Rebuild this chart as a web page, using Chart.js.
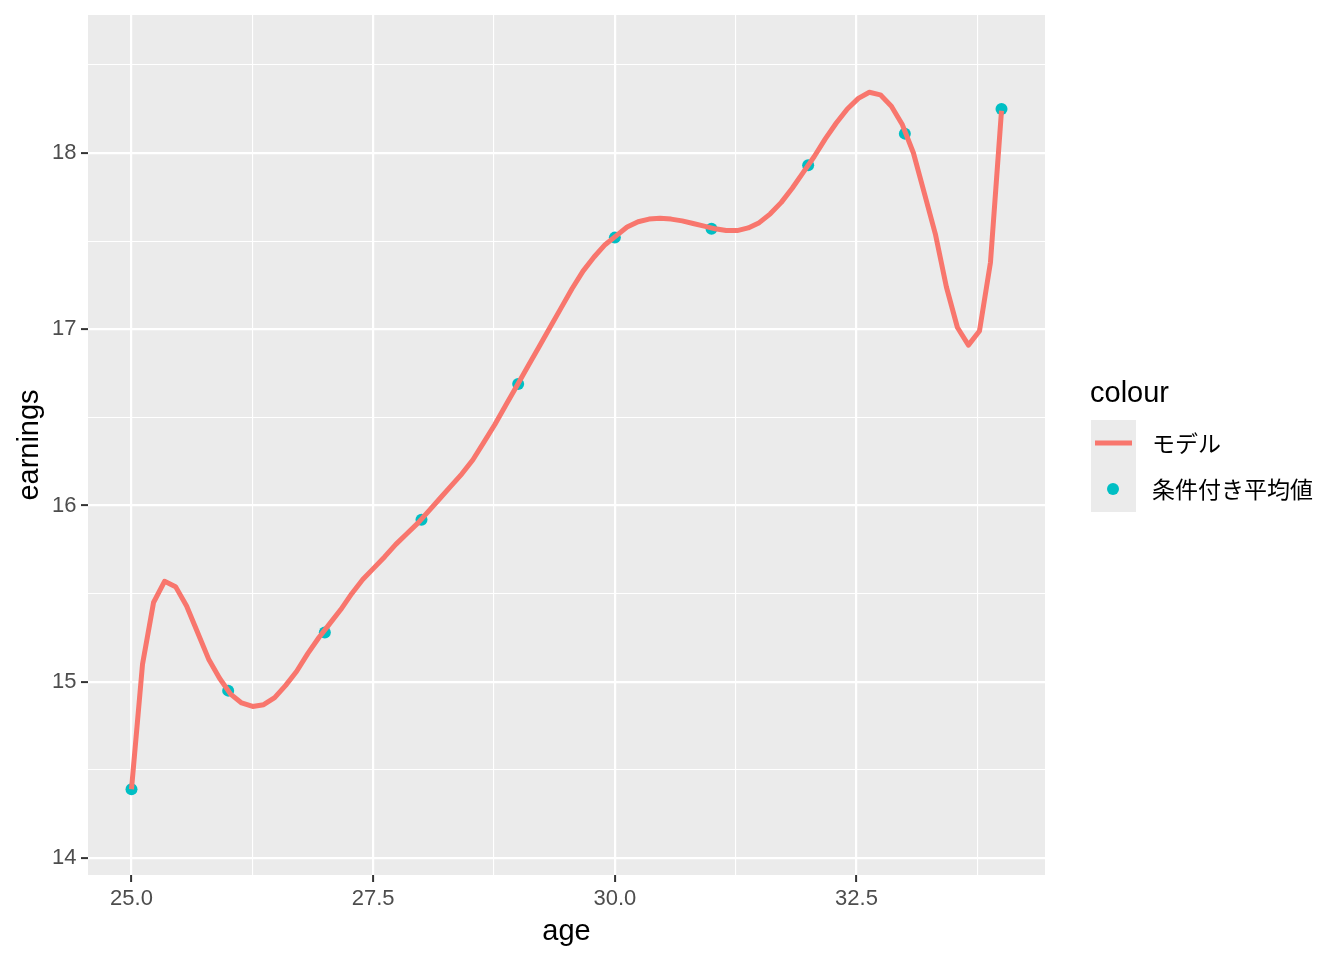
<!DOCTYPE html>
<html>
<head>
<meta charset="utf-8">
<script src="https://cdn.jsdelivr.net/npm/chart.js@4/dist/chart.umd.min.js"></script>
<style>
	body { margin: 0; background: #FFFFFF; }
	#wrap { width: 1344px; height: 960px; }
</style>
</head>
<body>
<div id="wrap"><canvas id="myChart" width="1344" height="960"></canvas></div>
<script>
// 조건부 평균 (점)
var ages = [25, 26, 27, 28, 29, 30, 31, 32, 33, 34];
var meanEarnings = [14.39, 14.95, 15.28, 15.92, 16.69, 17.52, 17.57, 17.93, 18.11, 18.25];

// 모델 곡선 (80개 지점)
var modelAge = [
	25.000, 25.114, 25.228, 25.342, 25.456, 25.570, 25.684, 25.797, 25.911, 26.025,
	26.139, 26.253, 26.367, 26.481, 26.595, 26.709, 26.823, 26.937, 27.051, 27.165,
	27.278, 27.392, 27.506, 27.620, 27.734, 27.848, 27.962, 28.076, 28.190, 28.304,
	28.418, 28.532, 28.646, 28.759, 28.873, 28.987, 29.101, 29.215, 29.329, 29.443,
	29.557, 29.671, 29.785, 29.899, 30.013, 30.127, 30.241, 30.354, 30.468, 30.582,
	30.696, 30.810, 30.924, 31.038, 31.152, 31.266, 31.380, 31.494, 31.608, 31.722,
	31.835, 31.949, 32.063, 32.177, 32.291, 32.405, 32.519, 32.633, 32.747, 32.861,
	32.975, 33.089, 33.203, 33.316, 33.430, 33.544, 33.658, 33.772, 33.886, 34.000
];
var modelEarnings = [
	14.39, 15.10, 15.45, 15.57, 15.54, 15.43, 15.28, 15.13, 15.02, 14.93,
	14.88, 14.86, 14.87, 14.91, 14.98, 15.06, 15.16, 15.25, 15.33, 15.41,
	15.50, 15.58, 15.645, 15.71, 15.78, 15.84, 15.90, 15.97, 16.04, 16.11,
	16.18, 16.26, 16.36, 16.46, 16.57, 16.68, 16.79, 16.90, 17.01, 17.12,
	17.23, 17.33, 17.41, 17.48, 17.53, 17.58, 17.61, 17.625, 17.63, 17.625,
	17.615, 17.60, 17.585, 17.57, 17.56, 17.56, 17.575, 17.605, 17.655, 17.72,
	17.80, 17.89, 17.98, 18.08, 18.17, 18.25, 18.31, 18.345, 18.33, 18.265,
	18.16, 18.00, 17.77, 17.54, 17.24, 17.01, 16.91, 16.99, 17.38, 18.24
];

var xMajor = [25, 27.5, 30, 32.5];
var xMinor = [26.25, 28.75, 31.25, 33.75];
var yMajor = [14, 15, 16, 17, 18];
var yMinor = [14.5, 15.5, 16.5, 17.5, 18.5];

var legendTitle = 'colour';
var legendLabels = ['モデル', '条件付き平均値'];

var LINE_COLOR = '#F8766D';
var POINT_COLOR = '#00BFC4';
var PANEL_BG = '#EBEBEB';

function toPoints(xs, ys) {
	var list = new Array();
	xs.forEach(function(x, i) {
		list.push({ x: x, y: ys[i] });
	});
	return list;
}

function isMajor(list, v) {
	return list.some(function(m) { return Math.abs(m - v) < 1e-6; });
}

function buildTicks(major, minor) {
	return function(scale) {
		var all = major.concat(minor).sort(function(a, b) { return a - b; });
		scale.ticks = all.map(function(v) { return { value: v }; });
	};
}

var panelBg = {
	id: 'panelBg',
	beforeDraw: function(chart) {
		var a = chart.chartArea;
		var ctx = chart.ctx;
		ctx.save();
		ctx.fillStyle = PANEL_BG;
		ctx.fillRect(a.left, a.top, a.right - a.left, a.bottom - a.top);
		ctx.restore();
	}
};

var ggLegend = {
	id: 'ggLegend',
	afterDraw: function(chart) {
		var ctx = chart.ctx;
		ctx.save();
		ctx.fillStyle = '#000000';
		ctx.font = '29px "Liberation Sans", Arial, sans-serif';
		ctx.textBaseline = 'alphabetic';
		ctx.fillText(legendTitle, 1090, 402);

		ctx.fillStyle = PANEL_BG;
		ctx.fillRect(1091, 420, 45, 92);

		ctx.strokeStyle = LINE_COLOR;
		ctx.lineWidth = 5;
		ctx.beginPath();
		ctx.moveTo(1095, 443);
		ctx.lineTo(1132, 443);
		ctx.stroke();

		ctx.fillStyle = POINT_COLOR;
		ctx.beginPath();
		ctx.arc(1113, 489, 6, 0, Math.PI * 2);
		ctx.fill();

		ctx.fillStyle = '#000000';
		ctx.font = '23px "Noto Sans CJK JP", sans-serif';
		ctx.textBaseline = 'middle';
		ctx.fillText(legendLabels[0], 1152, 443);
		ctx.fillText(legendLabels[1], 1152, 489);
		ctx.restore();
	}
};

var tickFont = { family: '"Liberation Sans", Arial, sans-serif', size: 22 };
var yTickFont = { family: '"Liberation Sans", Arial, sans-serif', size: 22, lineHeight: 0.8 };
var titleFont = { family: '"Liberation Sans", Arial, sans-serif', size: 29 };

var _config = {
	data: {
		datasets: [
			{
				type: 'line',
				label: legendLabels[0],
				data: toPoints(modelAge, modelEarnings),
				borderColor: LINE_COLOR,
				borderWidth: 5,
				pointRadius: 0,
				fill: false,
				tension: 0,
				borderJoinStyle: 'round',
				order: 0
			},
			{
				type: 'scatter',
				label: legendLabels[1],
				data: toPoints(ages, meanEarnings),
				backgroundColor: POINT_COLOR,
				borderWidth: 0,
				pointRadius: 6,
				order: 1
			}
		]
	},
	options: {
		responsive: false,
		animation: false,
		layout: { padding: { left: 0, top: 15, right: 299, bottom: 0 } },
		plugins: {
			legend: { display: false },
			tooltip: { enabled: false }
		},
		scales: {
			x: {
				type: 'linear',
				min: 24.55,
				max: 34.45,
				afterBuildTicks: buildTicks(xMajor, xMinor),
				afterFit: function(scale) { scale.height = 85; },
				border: { display: false },
				grid: {
					color: '#FFFFFF',
					lineWidth: function(c) { return isMajor(xMajor, c.tick.value) ? 2.2 : 1.1; },
					tickColor: function(c) { return isMajor(xMajor, c.tick.value) ? '#333333' : 'rgba(0,0,0,0)'; },
					tickWidth: 2,
					tickLength: 7
				},
				ticks: {
					autoSkip: false,
					maxRotation: 0,
					padding: 4,
					color: '#4D4D4D',
					font: tickFont,
					callback: function(v) { return isMajor(xMajor, v) ? v.toFixed(1) : ''; }
				},
				title: {
					display: true,
					text: 'age',
					color: '#000000',
					font: titleFont,
					padding: { top: 0, bottom: 11 }
				}
			},
			y: {
				type: 'linear',
				min: 13.904,
				max: 18.783,
				afterBuildTicks: buildTicks(yMajor, yMinor),
				afterFit: function(scale) { scale.width = 88; },
				border: { display: false },
				grid: {
					color: '#FFFFFF',
					lineWidth: function(c) { return isMajor(yMajor, c.tick.value) ? 2.2 : 1.1; },
					tickColor: function(c) { return isMajor(yMajor, c.tick.value) ? '#333333' : 'rgba(0,0,0,0)'; },
					tickWidth: 2,
					tickLength: 7
				},
				ticks: {
					autoSkip: false,
					padding: 4.5,
					color: '#4D4D4D',
					font: yTickFont,
					callback: function(v) { return isMajor(yMajor, v) ? String(v) : ''; }
				},
				title: {
					display: true,
					text: 'earnings',
					color: '#000000',
					font: titleFont,
					padding: { top: 13, bottom: 0 }
				}
			}
		}
	},
	plugins: [panelBg, ggLegend]
};

function createChart(id) {
	var ctx = document.getElementById(id);
	return new Chart(ctx, _config);
}

var myChart = createChart('myChart');
</script>
</body>
</html>
